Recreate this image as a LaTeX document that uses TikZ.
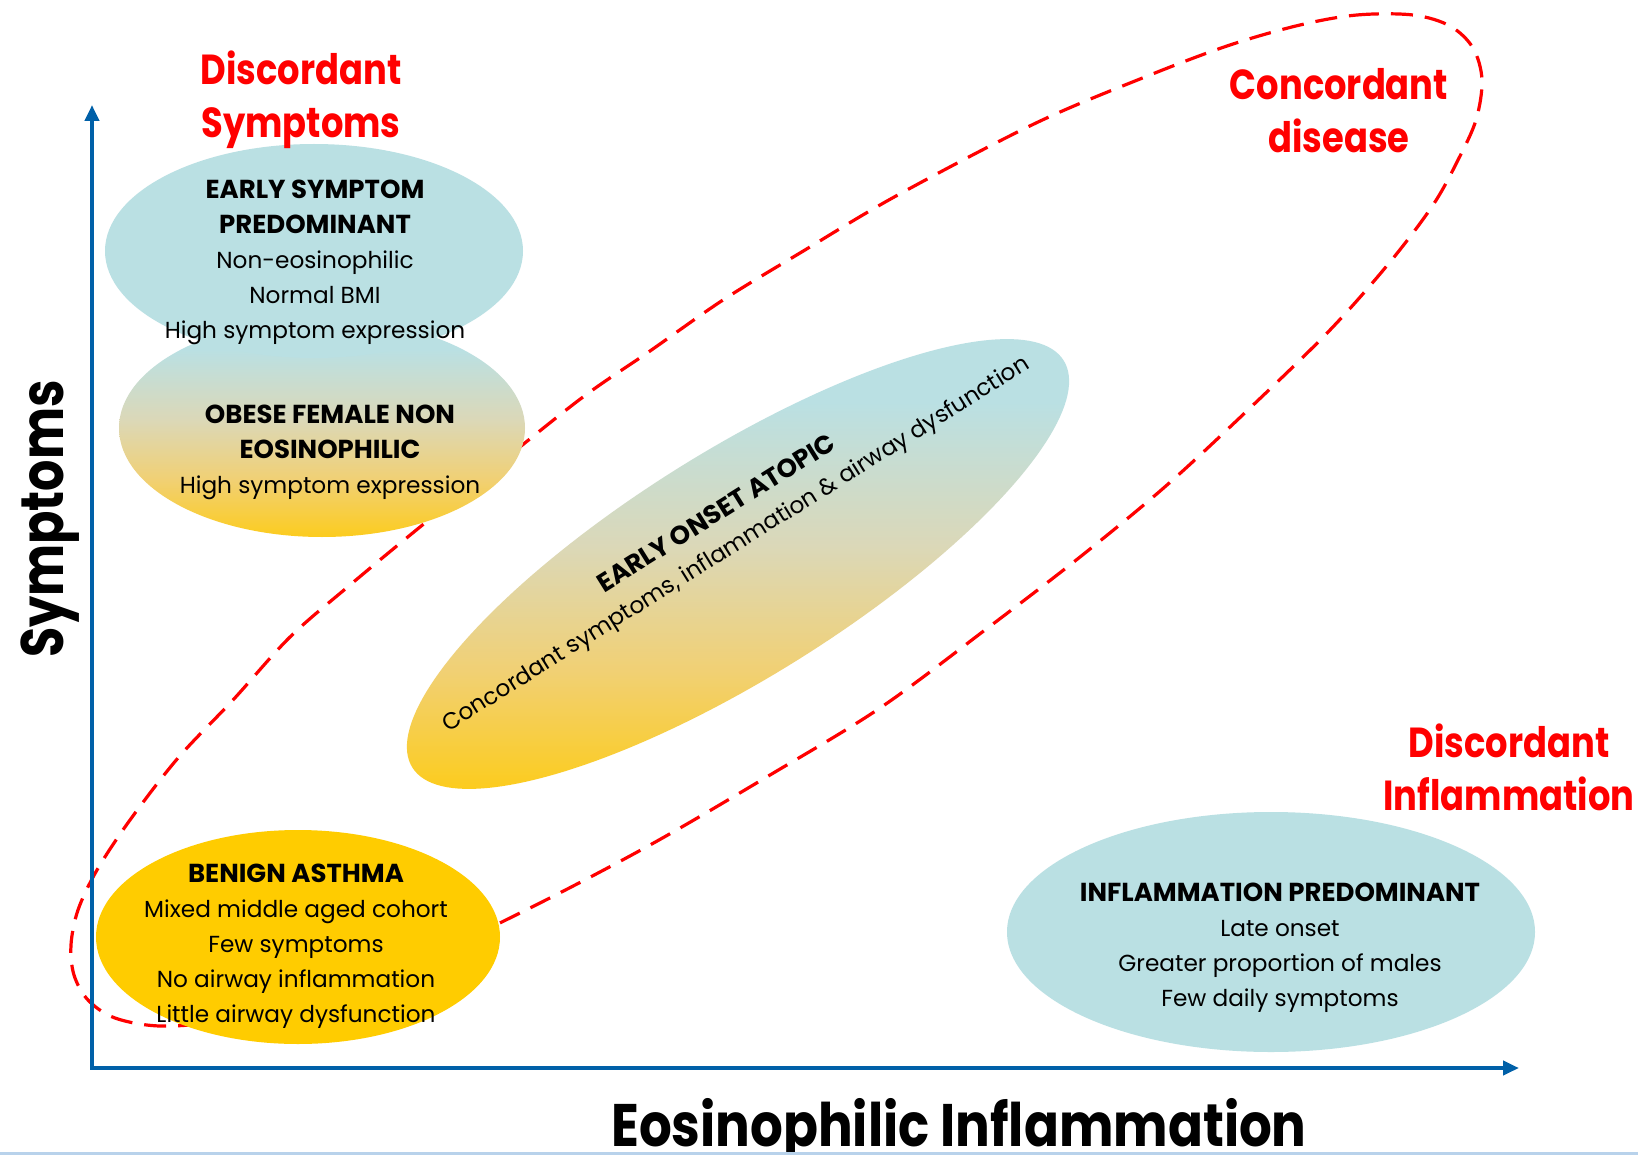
\documentclass[tikz,border=0pt]{standalone}
\usepackage{fontspec}
\setmainfont{Poppins}
\newfontfamily\condfont{Poppins}[FakeStretch=0.84]
\newfontfamily\ycondfont{Poppins}[FakeStretch=0.82]
\newfontfamily\xcondfont{Poppins}[FakeStretch=0.858]
\usetikzlibrary{arrows.meta}
\definecolor{lblue}{RGB}{186,224,227}
\definecolor{ylw}{RGB}{255,204,0}
\definecolor{ygrad}{RGB}{252,204,30}
\definecolor{gmidA}{RGB}{241,208,115}
\definecolor{gmidB}{RGB}{219,216,184}
\definecolor{axblue}{RGB}{0,96,168}
\definecolor{rd}{RGB}{255,0,0}
\definecolor{botline}{RGB}{184,210,235}
\pgfdeclareverticalshading{bluetoyellow}{100bp}{color(0bp)=(ygrad); color(25bp)=(ygrad); color(38bp)=(gmidA); color(52bp)=(gmidB); color(68bp)=(lblue); color(100bp)=(lblue)}
\newcommand\hdline[1]{{\bfseries\fontsize{13}{17.5}\selectfont #1}}
\begin{document}
\begin{tikzpicture}[x=0.5pt,y=-0.5pt,
  body/.style={font=\fontsize{11.6}{17.5}\selectfont, align=center, inner sep=0pt, text=black},
  redlab/.style={font=\condfont\bfseries\fontsize{21}{26.5}\selectfont, text=rd, align=center, inner sep=0pt},
  axlab/.style={font=\xcondfont\bfseries\fontsize{30}{36}\selectfont, text=black, inner sep=0pt},
  axisline/.style={draw=axblue, line width=2.2pt, {Triangle[length=8pt,width=7pt]}-{Triangle[length=8pt,width=7pt]}},
  concord/.style={draw=rd, line width=1.6pt, dash pattern=on 11pt off 6pt},
  grad/.style={shading=bluetoyellow}
]
\fill[white] (0,0) rectangle (1638,1155);
\useasboundingbox (0,0) rectangle (1638,1155);

% concordant disease outline
\draw[concord] plot[smooth cycle, tension=0.55] coordinates {
 (1300,25) (1357,15) (1413,15) (1450,26) (1473,48) (1482,80) (1476,120) (1458,160)
 (1433,205) (1390,262) (1330,330) (1250,408) (1167,485) (1080,557) (985,630) (880,708)
 (770,775) (650,845) (530,908) (420,960) (310,1000) (220,1021) (160,1026) (115,1018)
 (88,1000) (74,975) (71,945) (78,910) (97,870) (130,820) (178,758) (233,700) (290,637)
 (350,585) (420,527) (500,463) (583,397) (650,351) (723,300) (800,253) (896,196)
 (1036,123) (1150,75) (1230,45)};

% ellipses
\shade[grad] (322,428) ellipse [x radius=203, y radius=109];
\fill[lblue] (314,251) ellipse [x radius=209, y radius=107];
\shade[grad] plot[domain=0:358, samples=180, variable=\t]
  ({738 + 384*cos(\t)*cos(32) + 113*sin(\t)*sin(32)}, {564 - 384*cos(\t)*sin(32) + 113*sin(\t)*cos(32)}) -- cycle;
\fill[ylw] (298,937) ellipse [x radius=202, y radius=107];
\fill[lblue] (1271,932) ellipse [x radius=264, y radius=120];

% texts
\node[body] (es) at (315,262) {\hdline{EARLY SYMPTOM}\\\hdline{PREDOMINANT}\\Non-eosinophilic\\Normal BMI\\High symptom expression};
\node[body] (ob) at (330,452) {\hdline{OBESE FEMALE NON}\\\hdline{EOSINOPHILIC}\\High symptom expression};
\node[body, rotate=32] (eo) at (727,530) {\hdline{EARLY ONSET ATOPIC}\\Concordant symptoms, inflammation \& airway dysfunction};
\node[body] (bn) at (296,946) {\hdline{BENIGN ASTHMA}\\Mixed middle aged cohort\\Few symptoms\\No airway inflammation\\Little airway dysfunction};
\node[body] (ip) at (1280,948) {\hdline{INFLAMMATION PREDOMINANT}\\Late onset\\Greater proportion of males\\Few daily symptoms};

\node[redlab] (ds) at (301,100) {Discordant\\Symptoms};
\node[redlab] (cd) at (1339,111) {Concordant\\disease};
\node[redlab] (di) at (1509,767) {Discordant\\Inflammation};

% axes
\coordinate (O) at (92,1068);
\coordinate (ytip) at (92,105);
\coordinate (xtip) at (1519,1068);
\draw[axisline] (ytip) -- (O) -- (xtip);
\node[axlab, font=\ycondfont\bfseries\fontsize{30}{36}\selectfont, rotate=90] (ylab) at (50,519) {Symptoms};
\node[axlab] (xlab) at (959,1130) {Eosinophilic Inflammation};

\coordinate (bl) at (0,1153.5);
\coordinate (br) at (1638,1153.5);
\draw[botline, line width=1.5pt] (bl) -- (br);
\end{tikzpicture}
\end{document}
